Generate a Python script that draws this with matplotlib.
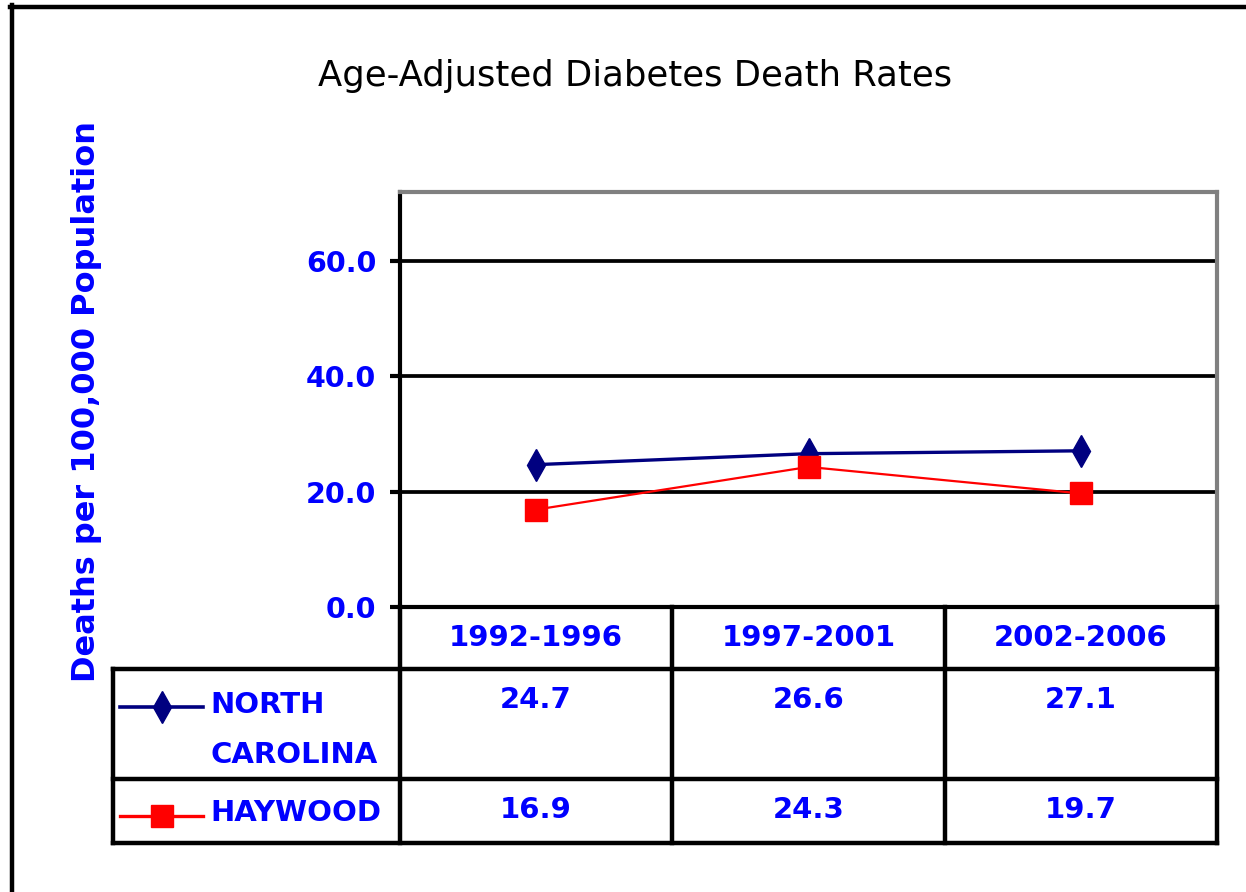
import matplotlib
matplotlib.use("Agg")
import matplotlib.pyplot as plt
from matplotlib.transforms import blended_transform_factory

# chart data
periods = ["1992-1996", "1997-2001", "2002-2006"]
north_carolina = [24.7, 26.6, 27.1]
haywood = [16.9, 24.3, 19.7]
series_labels = ["NORTH\nCAROLINA", "HAYWOOD"]
y_ticks = [0, 20, 40, 60]

BLUE = "#0000ff"
NAVY = "#000080"
RED = "#ff0000"

W, H = 1246, 892
fig = plt.figure(figsize=(W / 100, H / 100), dpi=100)


def fx(px):
    return px / W


def fy(py):
    return 1 - py / H


# plot area
ax = fig.add_axes([fx(400), fy(607), fx(1217) - fx(400), fy(192) - fy(607)])
xs = list(range(len(periods)))
ax.plot(xs, north_carolina, color=NAVY, lw=2.4, marker="d", ms=16, zorder=3)
ax.plot(xs, haywood, color=RED, lw=1.6, marker="s", ms=16, zorder=4)
ax.set_xlim(-0.5, len(periods) - 0.5)
ax.set_ylim(0, 72)
ax.set_yticks(y_ticks)
ax.set_yticklabels([f"{v:.1f}" for v in y_ticks], color=BLUE,
                   fontsize=20.5, fontweight="bold")
ax.set_xticks([])
ax.tick_params(axis="y", length=7, width=3, pad=10, color="black")
for v in y_ticks[1:]:
    ax.axhline(v, color="black", lw=2.7, zorder=1)
for side in ["left", "bottom"]:
    ax.spines[side].set_color("black")
    ax.spines[side].set_linewidth(3)
for side in ["top", "right"]:
    ax.spines[side].set_color("#808080")
    ax.spines[side].set_linewidth(3)

# overlay in pixel coords for table, frame and text
ov = fig.add_axes([0, 0, 1, 1], zorder=5)
ov.set_xlim(0, W)
ov.set_ylim(H, 0)
ov.axis("off")
bt = blended_transform_factory(ax.transData, ov.transData)

lw_tab = 3.2
# header / row separators
for py in [669, 779, 843]:
    ov.plot([113, 1217], [py, py], color="black", lw=lw_tab, solid_capstyle="projecting")
ov.plot([113, 113], [669, 843], color="black", lw=lw_tab, solid_capstyle="projecting")
for i in range(len(periods) + 1):
    ov.plot([i - 0.5, i - 0.5], [607, 843], color="black", lw=lw_tab,
            transform=bt, solid_capstyle="projecting")

# column headers and values
cell_font = dict(color=BLUE, fontsize=21, fontweight="bold")
for i, p in enumerate(periods):
    ov.text(i, 638, p, transform=bt, ha="center", va="center", **cell_font)
    ov.text(i, 700, f"{north_carolina[i]:.1f}", transform=bt, ha="center",
            va="center", **cell_font)
    ov.text(i, 810, f"{haywood[i]:.1f}", transform=bt, ha="center",
            va="center", **cell_font)

# legend keys
ov.plot([120, 203], [707, 707], color=NAVY, lw=2.6)
ov.plot([162], [707], color=NAVY, marker="d", ms=16, lw=0)
ov.plot([120, 203], [816, 816], color=RED, lw=2.4)
ov.plot([162], [816], color=RED, marker="s", ms=16, lw=0)
nc_first, nc_second = series_labels[0].split("\n")
ov.text(210, 705, nc_first, ha="left", va="center", **cell_font)
ov.text(210, 755, nc_second, ha="left", va="center", **cell_font)
ov.text(210, 813, series_labels[1], ha="left", va="center", **cell_font)

# outer frame (top and left only)
ov.plot([10, W], [7, 7], color="black", lw=3.2)
ov.plot([12, 12], [5, H], color="black", lw=3.2)

# titles
fig.text(fx(635), fy(76), "Age-Adjusted Diabetes Death Rates", ha="center", va="center",
         fontsize=25.5, color="black")
fig.text(fx(87), fy(402), "Deaths per 100,000 Population", rotation=90,
         ha="center", va="center", color=BLUE, fontsize=23, fontweight="bold")

fig.savefig("out.png", dpi=100, facecolor="white")
